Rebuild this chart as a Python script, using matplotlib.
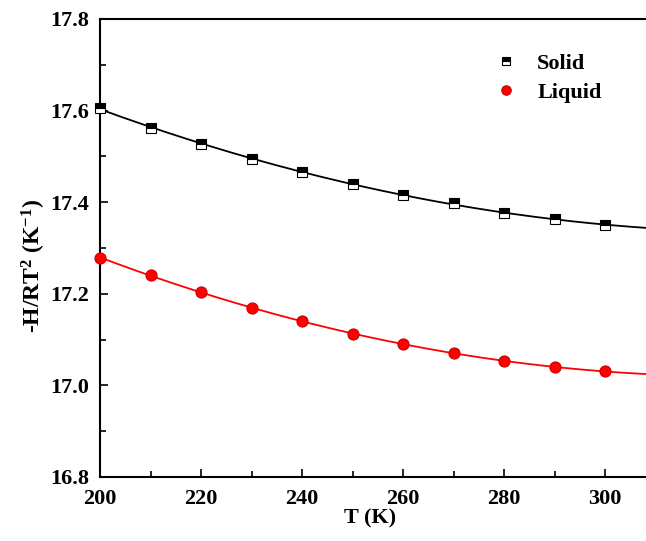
import numpy as np
import matplotlib
matplotlib.use("Agg")
import matplotlib.pyplot as plt
from matplotlib.ticker import MultipleLocator

T = [200, 210, 220, 230, 240, 250, 260, 270, 280, 290, 300]
solid = [17.606, 17.562, 17.527, 17.494, 17.466, 17.440, 17.416, 17.398, 17.376, 17.363, 17.350]
liquid = [17.278, 17.241, 17.204, 17.169, 17.141, 17.112, 17.090, 17.071, 17.053, 17.040, 17.031]

plt.rcParams['font.family'] = ['Liberation Serif', 'DejaVu Serif']
plt.rcParams['font.weight'] = 'bold'
plt.rcParams['mathtext.fontset'] = 'custom'
plt.rcParams['mathtext.rm'] = 'Liberation Serif:bold'
plt.rcParams['mathtext.default'] = 'rm'

fig = plt.figure(figsize=(6.46, 5.41), dpi=100)
ax = fig.add_axes([100/646, 1 - 477/541, 546/646, 458/541])

xmin, xmax = 200, 308.1
tt = np.linspace(xmin, xmax, 200)
ps = np.polyfit(T, solid, 2)
pl = np.polyfit(T, liquid, 2)
ax.plot(tt, np.polyval(ps, tt), color='black', lw=1.3, zorder=2)
ax.plot(tt, np.polyval(pl, tt), color='red', lw=1.3, zorder=2)

ax.plot(T, solid, ls='none', marker='s', markersize=6.5, fillstyle='top',
        markerfacecolor='black', markerfacecoloralt='white', markeredgecolor='black',
        markeredgewidth=0.8, label='Solid', zorder=3, clip_on=False)
ax.plot(T, liquid, ls='none', marker='o', markersize=8, markerfacecolor='red',
        markeredgecolor='#d00000', markeredgewidth=0.8, label='Liquid', zorder=3, clip_on=False)

ax.set_xlim(xmin, xmax)
ax.set_ylim(16.8, 17.8)
ax.xaxis.set_major_locator(MultipleLocator(20))
ax.xaxis.set_minor_locator(MultipleLocator(10))
ax.yaxis.set_major_locator(MultipleLocator(0.2))
ax.yaxis.set_minor_locator(MultipleLocator(0.1))
ax.yaxis.set_major_formatter(matplotlib.ticker.FormatStrFormatter('%.1f'))
ax.tick_params(which='both', direction='in', labelsize=16, width=1.2)
ax.tick_params(which='major', length=6)
ax.tick_params(which='minor', length=4)
ax.tick_params(axis='x', pad=9)
ax.tick_params(axis='y', pad=8)
ax.tick_params(top=False, right=False)
for side in ['left', 'bottom', 'top']:
    ax.spines[side].set_linewidth(1.5)
ax.spines['right'].set_visible(False)

ax.set_xlabel('T (K)', fontsize=16, fontweight='bold')
ax.xaxis.set_label_coords((370 - 100) / 546, (477 - 508) / 458)
ax.set_ylabel(r'-H/RT$^{2}$ (K$^{-1}$)', fontsize=17, fontweight='bold')
ax.yaxis.set_label_coords((48 - 100) / 546, (477 - 266) / 458)

leg = ax.legend(loc='upper left', bbox_to_anchor=((495 - 100) / 546, (477 - 53) / 458),
                frameon=False, fontsize=16, handletextpad=0.9, labelspacing=0.4,
                markerscale=0.85, handlelength=1.0, borderaxespad=0, borderpad=0)

fig.savefig('out.png', dpi=100)
